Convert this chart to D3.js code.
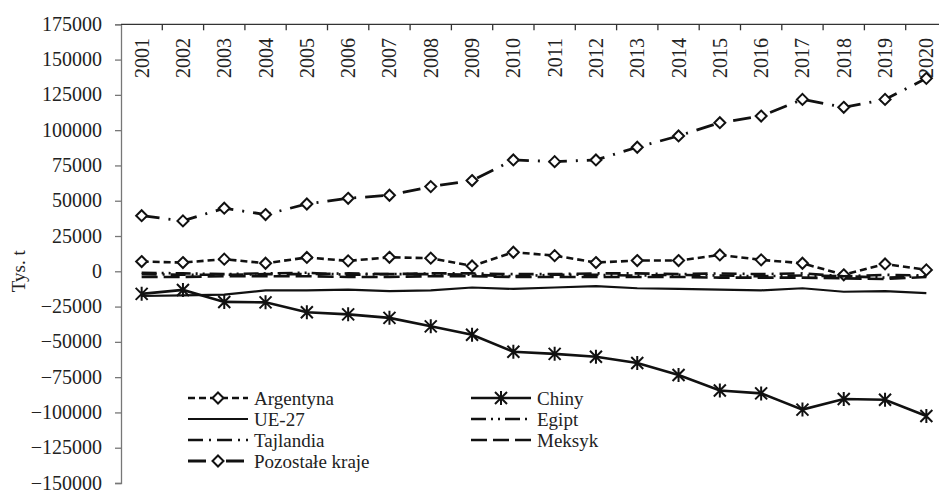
<!DOCTYPE html>
<html>
<head>
<meta charset="utf-8">
<script src="https://d3js.org/d3.v7.min.js"></script>
<style>
  body { margin: 0; background: #fff; }
  svg { display: block; }
  svg text { font-family: "Liberation Serif", "Times New Roman", Times, "DejaVu Serif", serif; }
</style>
</head>
<body>
<div id="chart"></div>
<script>
// data (thousand tonnes)
const years = ["2001","2002","2003","2004","2005","2006","2007","2008","2009","2010",
               "2011","2012","2013","2014","2015","2016","2017","2018","2019","2020"];
const argentyna = [6900, 6200, 8600, 5700, 9800, 7400, 9900, 9300, 3800, 13500,
                   11100, 6200, 7600, 7600, 11600, 8100, 5700, -2500, 5200, 1000];
const chiny = [-16000, -13200, -21700, -22000, -29000, -30500, -33000, -39000, -45000, -57000,
               -58500, -60500, -65000, -73500, -84500, -86500, -98000, -90500, -91000, -102500];
const ue27 = [-17500, -17000, -16500, -13500, -13500, -13000, -14000, -13500, -11500, -12500,
              -11500, -10500, -12000, -12500, -13000, -13500, -12000, -14500, -14000, -15500];
const egipt = [-1000, -1500, -2000, -1500, -1000, -2500, -2000, -2000, -2500, -3500,
               -2500, -2500, -3000, -2500, -3000, -3500, -3000, -3500, -4500, -3500];
const tajlandia = [-2000, -2500, -2500, -2000, -2000, -1500, -2000, -1500, -1500, -2000,
                   -2000, -1500, -1500, -2000, -1500, -2000, -1500, -3500, -2500, -3000];
const meksyk = [-4000, -4000, -3500, -3500, -3500, -4000, -4000, -3500, -3500, -4000,
                -4000, -4000, -4000, -4000, -4500, -4500, -4500, -5000, -5500, -4000];
const pozostale = [39400, 35700, 44700, 40200, 47700, 51700, 53900, 60000, 64300, 78900,
                   77700, 78900, 87900, 95900, 105300, 110000, 121800, 116200, 121800, 136700];

const seriesNames = ["Argentyna", "Chiny", "UE-27", "Egipt", "Tajlandia", "Meksyk", "Pozostałe kraje"];
const seriesValues = [argentyna, chiny, ue27, egipt, tajlandia, meksyk, pozostale];
const yTicks = d3.range(-150000, 175001, 25000);

// how each series is drawn
const styles = {
  "Argentyna":       { dash: "7,4",            width: 2.6, marker: "diamond" },
  "Chiny":           { dash: null,             width: 2.6, marker: "star" },
  "UE-27":           { dash: null,             width: 2.2, marker: null },
  "Egipt":           { dash: "15,5,2,5,2,5",   width: 2.6, marker: null },
  "Tajlandia":       { dash: "15,6,2,6",       width: 2.6, marker: null },
  "Meksyk":          { dash: "16,6",           width: 2.6, marker: null },
  "Pozostałe kraje": { dash: "18,9,2,9",       width: 2.8, marker: "diamond" }
};

const serif = "Liberation Serif, Times New Roman, Times, DejaVu Serif, serif";
const width = 939, height = 491;
const plotLeft = 121, plotRight = 947, plotTop = 24.3, plotBottom = 483;

const svg = d3.select("#chart").append("svg")
    .attr("width", width)
    .attr("height", height)
    .attr("font-family", serif);

const x = d3.scaleBand().domain(years).range([plotLeft, plotRight]);
const y = d3.scaleLinear().domain([-150000, 175000]).range([plotBottom, plotTop]);

// y axis on the left
const yAxis = svg.append("g")
    .attr("transform", `translate(${plotLeft},0)`)
    .call(d3.axisLeft(y).tickValues(yTicks).tickFormat(d3.format("d")).tickSize(6).tickPadding(13))
    .attr("font-family", serif);
yAxis.select(".domain").attr("stroke", "#777").attr("stroke-width", 1.3);
yAxis.selectAll(".tick line").attr("stroke", "#777").attr("stroke-width", 1.3);
yAxis.selectAll(".tick text")
    .attr("font-size", 20)
    .attr("fill", "#222")
    .attr("dy", "0.3em");

// category axis along the top edge
svg.append("line")
    .attr("x1", plotLeft).attr("x2", plotRight)
    .attr("y1", y(175000)).attr("y2", y(175000))
    .attr("stroke", "#333").attr("stroke-width", 1.3);
svg.append("g").selectAll("line")
    .data(years)
    .join("line")
    .attr("x1", d => x(d) + x.step())
    .attr("x2", d => x(d) + x.step())
    .attr("y1", y(175000)).attr("y2", y(175000) + 6)
    .attr("stroke", "#333").attr("stroke-width", 1.3);
svg.append("g").selectAll("text")
    .data(years)
    .join("text")
    .attr("transform", d => `translate(${x(d) + x.bandwidth() / 2},38) rotate(-90)`)
    .attr("text-anchor", "end")
    .attr("dy", "0.35em")
    .attr("font-size", 20)
    .attr("fill", "#222")
    .text(d => d);

// axis title
svg.append("text")
    .attr("transform", `translate(18,${y(0)}) rotate(-90)`)
    .attr("text-anchor", "middle")
    .attr("dy", "0.35em")
    .attr("font-size", 19)
    .attr("fill", "#222")
    .text("Tys. t");

// markers
function drawMarker(g, type, cx, cy) {
  if (type === "diamond") {
    const r = 5.5;
    g.append("path")
      .attr("d", `M${cx},${cy - r}L${cx + r},${cy}L${cx},${cy + r}L${cx - r},${cy}Z`)
      .attr("fill", "#fff").attr("stroke", "#111").attr("stroke-width", 2);
  } else if (type === "star") {
    const r = 6;
    g.append("path")
      .attr("d", `M${cx - r},${cy - r}L${cx + r},${cy + r}M${cx - r},${cy + r}L${cx + r},${cy - r}` +
                 `M${cx},${cy - r - 1}L${cx},${cy + r + 1}`)
      .attr("fill", "none").attr("stroke", "#111").attr("stroke-width", 2);
  }
}

const line = d3.line()
    .x((d, i) => x(years[i]) + x.bandwidth() / 2)
    .y(d => y(d));

const plot = svg.append("g");
seriesNames.forEach((name, k) => {
  const s = styles[name];
  const vals = seriesValues[k];
  plot.append("path")
    .datum(vals)
    .attr("d", line)
    .attr("fill", "none")
    .attr("stroke", "#111")
    .attr("stroke-width", s.width)
    .attr("stroke-dasharray", s.dash);
  if (s.marker) {
    vals.forEach((v, i) => drawMarker(plot, s.marker, x(years[i]) + x.bandwidth() / 2, y(v)));
  }
});

// legend, two columns, row-wise
const legend = svg.append("g");
const colX = [188, 471];
const rowY = [398, 419, 440, 461];
seriesNames.forEach((name, k) => {
  const s = styles[name];
  const lx = colX[k % 2], ly = rowY[Math.floor(k / 2)];
  legend.append("line")
    .attr("x1", lx).attr("x2", lx + 60)
    .attr("y1", ly).attr("y2", ly)
    .attr("stroke", "#111")
    .attr("stroke-width", s.width)
    .attr("stroke-dasharray", s.dash);
  if (s.marker) drawMarker(legend, s.marker, lx + 30, ly);
  legend.append("text")
    .attr("x", lx + 66)
    .attr("y", ly)
    .attr("dy", "0.35em")
    .attr("font-size", 19)
    .attr("fill", "#222")
    .text(name);
});
</script>
</body>
</html>
